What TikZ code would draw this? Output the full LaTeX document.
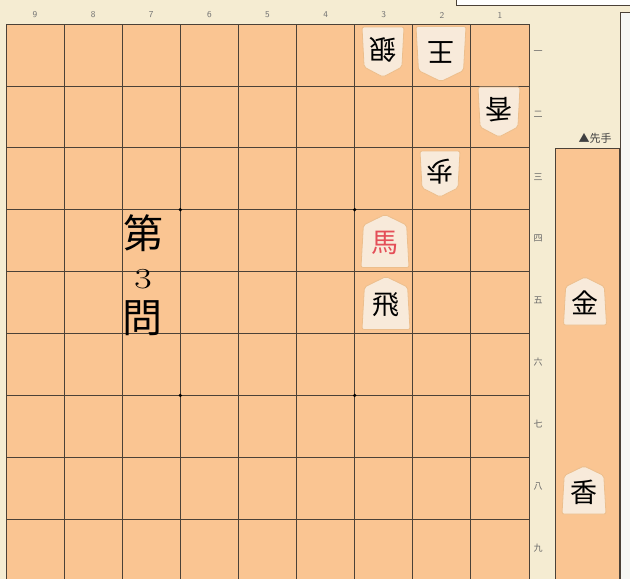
\documentclass[tikz,border=0pt]{standalone}
\usepackage{fontspec}
\newfontfamily\cjk{Noto Sans CJK JP}
\definecolor{boardc}{RGB}{250,197,146}
\definecolor{creamc}{RGB}{245,236,210}
\definecolor{rightc}{RGB}{246,247,244}
\definecolor{komac}{RGB}{248,234,218}
\definecolor{komaedge}{RGB}{236,190,140}
\definecolor{redc}{RGB}{228,78,88}
\definecolor{linec}{RGB}{75,65,55}
\tikzset{
  grid/.style={color=linec, line width=0.8pt},
  koma/.style={fill=komac, draw=komaedge, line width=0.8pt, rounded corners=2pt},
  komaji/.style={font=\cjk\fontsize{27}{27}\selectfont, inner sep=0pt},
  suji/.style={font=\sffamily\fontsize{9}{9}\selectfont, text=black!55},
  dan/.style={font=\cjk\fontsize{9}{9}\selectfont, text=black!60},
  big/.style={font=\cjk\fontsize{40}{40}\selectfont, inner sep=0pt}
}
\begin{document}
\begin{tikzpicture}[x=1pt,y=-1pt]
\useasboundingbox (0,0) rectangle (630,579);
\clip (0,0) rectangle (630,579);
% paper
\fill[creamc] (0,0) rectangle (630,579);
\fill[rightc] (620,12) rectangle (630,579);
\draw[color=linec, fill=white, line width=0.8pt] (456,-3) rectangle (634,5);
\draw[color=linec, line width=0.8pt] (620,585) -- (620,12) -- (634,12);
% board
\fill[boardc] (6,24) rectangle (529,581);
\foreach \i in {0,...,9} {
  \draw[grid] ({6+\i*58.11},24) -- ({6+\i*58.11},581);
  \draw[grid] (6,{24+\i*61.9}) -- (529,{24+\i*61.9});
}
\foreach \sx/\sy in {180.3/209.7, 354.7/209.7, 180.3/395.4, 354.7/395.4}
  \fill[color=black] (\sx,\sy) circle (1.8);
\foreach \f in {1,...,9}
  \node[suji] (f\f) at ({6+(9.5-\f)*58.11},15) {\f};
\foreach \r/\k in {1/一,2/二,3/三,4/四,5/五,6/六,7/七,8/八,9/九}
  \node[dan] (r\r) at (538,{22+(\r-0.5)*61.9}) {\k};
% piece stand
\draw[color=linec, fill=boardc, line width=0.7pt] (555,148) rectangle (619,590);
\node[font=\cjk\fontsize{11}{11}\selectfont, text=black!75, inner sep=0pt] (sente) at (595,138) {▲先手};
% title
\node[big] (dai) at (143,233) {第};
\node[font=\fontsize{29}{29}\selectfont, inner sep=0pt, xscale=1.3] (san) at (143,279) {3};
\node[big] (mon) at (142,318) {問};
% pieces
\foreach \nm/\px/\py/\w/\h/\r/\ch/\tc in {
  gin/383/52/42/50/180/銀/black, ou/441/54/50/55/180/王/black,
  kyo/499/112/42/50/180/香/black, fu/440/174/40/46/180/歩/black,
  uma/385/241/48/53/0/馬/redc, hisha/386/303/48/53/0/飛/black,
  kin/585/301/43/48/0/金/black, kyoh/584/490/44/48/0/香/black} {
  \filldraw[koma, shift={(\px,\py)}, rotate=\r]
    (-\w/2,\h/2) -- (-0.45*\w,-0.3*\h) -- (0,-\h/2) -- (0.45*\w,-0.3*\h) -- (\w/2,\h/2) -- cycle;
  \node[komaji, text=\tc, rotate=\r] (\nm) at (\px,{\py+2-4*(\r/180)}) {\ch};
}
\end{tikzpicture}
\end{document}
